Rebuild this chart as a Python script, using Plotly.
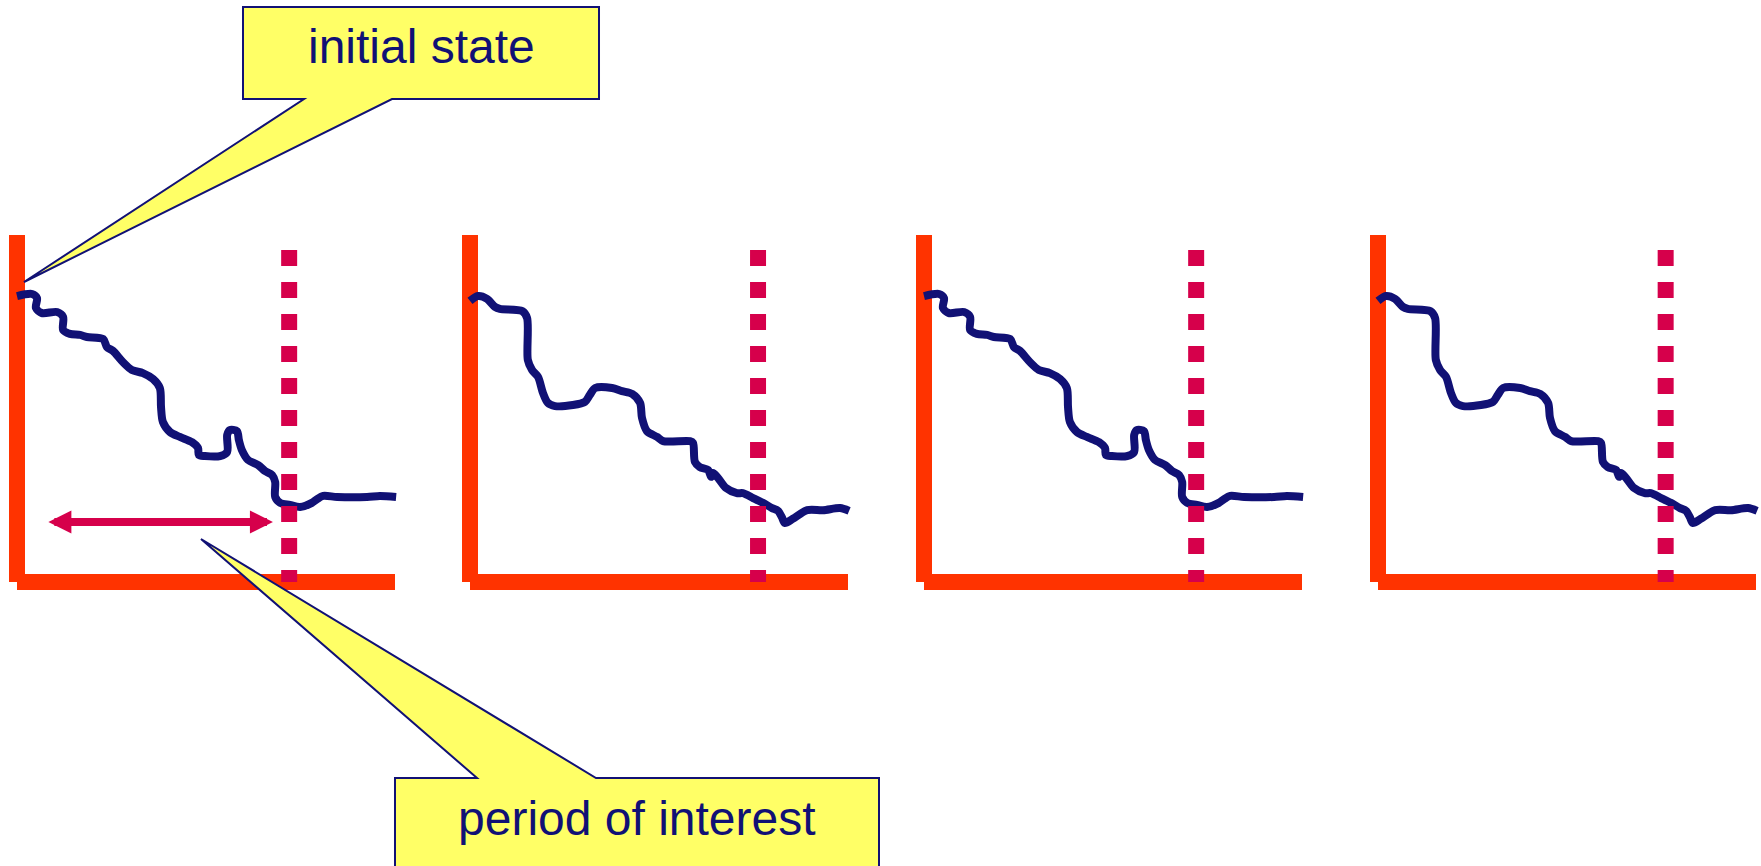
import plotly.graph_objects as go

W, H = 1761, 866

# State trajectory A (drawn in panels 1 and 3): time vs. state
TRAJ_A_T = [0, 4.0, 5.3, 5.0, 6.6, 10.6, 12.2, 12.2, 14.0, 16.7, 18.5, 22.8, 23.8, 25.4,
            28.0, 30.4, 33.3, 36.0, 37.8, 38.1, 38.6, 40.5, 43.1, 46.3, 47.9, 48.1, 49.7,
            53.7, 55.6, 55.6, 56.3, 58.2, 58.7, 59.5, 61.1, 63.8, 65.6, 67.5, 68.3, 68.3,
            69.6, 72.2, 74.9, 78.0, 79.4, 81.0, 84.7, 92.6, 96.0, 100.3]
TRAJ_A_V = [82.4, 83.0, 81.8, 79.0, 77.5, 77.8, 76.4, 72.6, 71.5, 71.2, 70.6, 70.0, 67.7, 66.6,
            63.4, 61.1, 60.2, 58.5, 55.9, 50.4, 46.1, 43.2, 41.8, 40.3, 38.6, 36.6, 36.3,
            36.3, 37.5, 42.4, 43.8, 43.5, 40.9, 38.0, 35.2, 33.7, 32.0, 30.8, 28.8, 24.5,
            22.8, 22.2, 21.6, 22.8, 23.9, 24.8, 24.5, 24.5, 24.8, 24.5]

# State trajectory B (drawn in panels 2 and 4)
TRAJ_B_T = [0, 2.1, 4.5, 6.6, 7.9, 13.8, 15.1, 15.3, 16.4, 18.0, 19.3, 20.6, 22.5, 27.2,
            30.4, 31.7, 33.1, 37.6, 40.2, 42.9, 45.0, 45.5, 46.8, 49.5, 51.1, 58.2, 59.0,
            59.5, 60.8, 63.0, 63.8, 64.3, 65.6, 67.7, 70.6, 72.2, 74.9, 77.5, 79.9, 81.5,
            82.5, 83.3, 85.4, 89.2, 93.4, 97.9, 100.3]
TRAJ_B_V = [81.0, 82.4, 81.6, 79.3, 78.7, 78.1, 76.1, 64.0, 61.1, 59.1, 54.5, 51.6, 50.7, 51.0,
            51.9, 53.9, 55.9, 55.9, 55.0, 54.2, 51.6, 47.3, 43.5, 41.8, 40.6, 40.6, 40.1,
            34.6, 33.1, 32.3, 30.3, 31.4, 30.0, 27.1, 25.6, 25.6, 24.2, 22.8, 21.3, 20.5,
            18.7, 17.0, 18.2, 20.7, 20.7, 21.3, 20.5]

PANEL_TRAJ = ["A", "B", "A", "B"]
CUTOFF_T = [72.0, 76.2, 72.0, 76.1]      # end of each panel's window
PERIOD = (7.9, 67.7)                      # period of interest (start, end)
PERIOD_LEVEL = 17.3
TIME_END = 100
STATE_TOP = 100
CUTOFF_TOP = 95.7
INITIAL_LABEL = "initial state"
PERIOD_LABEL = "period of interest"

# Colours
AXIS_ORANGE = "#FF3300"
NAVY = "#111175"
CRIMSON = "#D6004B"
NOTE_YELLOW = "#FFFF66"

# Page geometry (pixels)
ORIGIN_X = [17, 470, 924, 1378]
ORIGIN_Y = 582
PX_PER_T = 3.78
PX_PER_V = 3.47
XR = [-4, 101.2]
YR = [-4, 104]

TRAJ = {"A": (TRAJ_A_T, TRAJ_A_V), "B": (TRAJ_B_T, TRAJ_B_V)}


def paper(x, y):
    return x / W, 1 - y / H


fig = go.Figure()
layout_axes = {}
shapes = []
annotations = []

y_dom = [(H - (ORIGIN_Y - YR[0] * PX_PER_V)) / H, (H - (ORIGIN_Y - YR[1] * PX_PER_V)) / H]

for i, ox in enumerate(ORIGIN_X):
    n = "" if i == 0 else str(i + 1)
    xa, ya = "x" + n, "y" + n
    x_dom = [(ox + XR[0] * PX_PER_T) / W, min(1.0, (ox + XR[1] * PX_PER_T) / W)]
    layout_axes["xaxis" + n] = dict(domain=x_dom, range=XR, visible=False, anchor=ya,
                                    fixedrange=True)
    layout_axes["yaxis" + n] = dict(domain=y_dom, range=YR, visible=False, anchor=xa,
                                    fixedrange=True)

    # orange axes
    shapes.append(dict(type="line", xref=xa, yref=ya, x0=0, x1=0, y0=0, y1=STATE_TOP,
                       line=dict(color=AXIS_ORANGE, width=16), layer="below"))
    shapes.append(dict(type="line", xref=xa, yref=ya, x0=0, x1=TIME_END, y0=0, y1=0,
                       line=dict(color=AXIS_ORANGE, width=16), layer="below"))

    t, v = TRAJ[PANEL_TRAJ[i]]
    fig.add_trace(go.Scatter(x=t, y=v, xaxis=xa, yaxis=ya, mode="lines",
                             line=dict(color=NAVY, width=8, shape="spline", smoothing=0.8),
                             hoverinfo="skip", showlegend=False))

    # dotted cut-off line
    shapes.append(dict(type="line", xref=xa, yref=ya, x0=CUTOFF_T[i], x1=CUTOFF_T[i],
                       y0=CUTOFF_TOP, y1=0,
                       line=dict(color=CRIMSON, width=16, dash="16px,16px"), layer="above"))

# double-headed arrow marking the period of interest (first panel)
annotations.append(dict(xref="x", yref="y", axref="x", ayref="y",
                        x=PERIOD[1], y=PERIOD_LEVEL, ax=PERIOD[0], ay=PERIOD_LEVEL,
                        text="", showarrow=True, arrowside="start+end",
                        arrowhead=2, startarrowhead=2, arrowwidth=8,
                        arrowsize=0.575, startarrowsize=0.575, arrowcolor=CRIMSON,
                        standoff=0, startstandoff=0))


def callout_path(points):
    pts = [paper(x, y) for x, y in points]
    return "M " + " L ".join(f"{x:.5f},{y:.5f}" for x, y in pts) + " Z"


# callout for the initial state
shapes.append(dict(type="path", xref="paper", yref="paper",
                   path=callout_path([(243, 7), (599, 7), (599, 99), (392, 99), (24, 282),
                                      (304, 99), (243, 99)]),
                   fillcolor=NOTE_YELLOW, line=dict(color=NAVY, width=2), layer="above"))
# callout for the period of interest
shapes.append(dict(type="path", xref="paper", yref="paper",
                   path=callout_path([(395, 778), (477, 778), (201, 539), (596, 778),
                                      (879, 778), (879, 880), (395, 880)]),
                   fillcolor=NOTE_YELLOW, line=dict(color=NAVY, width=2), layer="above"))

label_font = dict(family="Liberation Sans, Arial, sans-serif", size=48, color=NAVY)
lx, ly = paper(421, 46)
annotations.append(dict(xref="paper", yref="paper", x=lx, y=ly, text=INITIAL_LABEL,
                        showarrow=False, xanchor="center", yanchor="middle", font=label_font))
lx, ly = paper(637, 818)
annotations.append(dict(xref="paper", yref="paper", x=lx, y=ly, text=PERIOD_LABEL,
                        showarrow=False, xanchor="center", yanchor="middle", font=label_font))

fig.update_layout(width=W, height=H, margin=dict(l=0, r=0, t=0, b=0, pad=0),
                  paper_bgcolor="white", plot_bgcolor="rgba(0,0,0,0)",
                  showlegend=False, shapes=shapes, annotations=annotations,
                  **layout_axes)

fig.write_html("out.html", config={"displayModeBar": False})
